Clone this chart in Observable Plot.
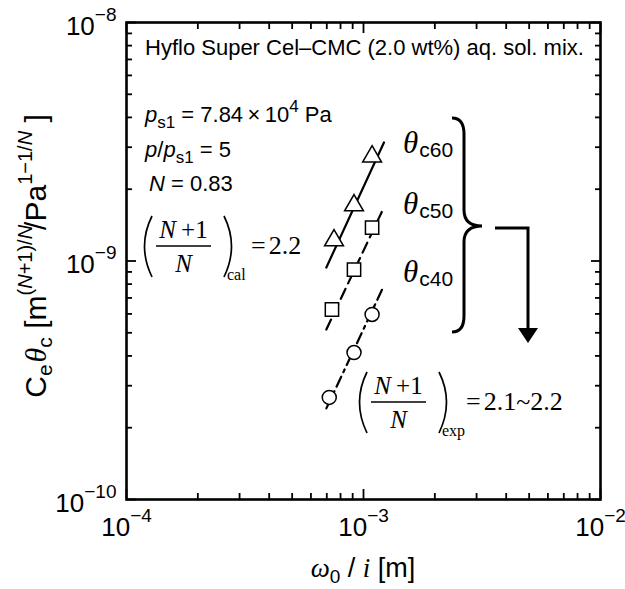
<!DOCTYPE html>
<html>
<head>
<meta charset="utf-8">
<script src="https://cdn.jsdelivr.net/npm/d3@7"></script>
<script src="https://cdn.jsdelivr.net/npm/@observablehq/plot@0.6"></script>
<style>
  body { margin: 0; background: #fff; }
  svg { display: block; }
</style>
</head>
<body>
<div id="chart"></div>
<script>
// ω0 / i [m] and Ce·θc values for the three consolidation levels
const omegaC60 = [7.51e-4, 9.12e-4, 1.087e-3];
const ceThetaC60 = [1.22e-9, 1.71e-9, 2.74e-9];
const omegaC50 = [7.36e-4, 9.12e-4, 1.087e-3];
const ceThetaC50 = [6.26e-10, 9.21e-10, 1.38e-9];
const omegaC40 = [7.17e-4, 9.12e-4, 1.087e-3];
const ceThetaC40 = [2.68e-10, 4.13e-10, 5.97e-10];

// fitted power-law lines (end points)
const fitOmega = [6.97e-4, 1.22e-3];
const fitC60 = [9.39e-10, 3.14e-9];
const fitC50 = [5.16e-10, 1.68e-9];
const fitC40 = [2.41e-10, 7.89e-10];

// axis ticks
const majorX = [1e-4, 1e-3, 1e-2];
const majorY = [1e-10, 1e-9, 1e-8];
const mantissas = [2, 3, 4, 5, 6, 7, 8, 9];
const minorX = [1e-4, 1e-3].flatMap(d => mantissas.map(m => m * d));
const minorY = [1e-10, 1e-9].flatMap(d => mantissas.map(m => m * d));

const pts = (xs, ys) => xs.map((x, i) => ({x, y: ys[i]}));

const SANS = "'Liberation Sans', Arial, Helvetica, sans-serif";
const SERIF = "'Liberation Serif', 'Times New Roman', Times, serif";

const tickOpts = {stroke: "black", strokeWidth: 1.8, text: null, label: null};
const pow10 = d => "10^" + Math.round(Math.log10(d));

const plot = Plot.plot({
  width: 625,
  height: 589,
  marginLeft: 126,
  marginRight: 25,
  marginTop: 22,
  marginBottom: 90,
  x: {type: "log", domain: [1e-4, 1e-2]},
  y: {type: "log", domain: [1e-10, 1e-8]},
  style: {fontFamily: SANS, background: "white", color: "black", overflow: "visible"},
  marks: [
    // inward ticks on all four sides
    Plot.axisX({...tickOpts, anchor: "bottom", ticks: majorX, tickSize: 10, dy: -10}),
    Plot.axisX({...tickOpts, anchor: "bottom", ticks: minorX, tickSize: 6, dy: -6}),
    Plot.axisX({...tickOpts, anchor: "top", ticks: majorX, tickSize: 10, dy: 10}),
    Plot.axisX({...tickOpts, anchor: "top", ticks: minorX, tickSize: 6, dy: 6}),
    Plot.axisY({...tickOpts, anchor: "left", ticks: majorY, tickSize: 10, dx: 10}),
    Plot.axisY({...tickOpts, anchor: "left", ticks: minorY, tickSize: 6, dx: 6}),
    Plot.axisY({...tickOpts, anchor: "right", ticks: majorY, tickSize: 10, dx: -10}),
    Plot.axisY({...tickOpts, anchor: "right", ticks: minorY, tickSize: 6, dx: -6}),
    // decade labels
    Plot.axisX({anchor: "bottom", ticks: majorX, tickSize: 0, tickPadding: 18, fontSize: 26, tickFormat: pow10, label: null}),
    Plot.axisY({anchor: "left", ticks: majorY, tickSize: 0, tickPadding: 10, fontSize: 26, tickFormat: pow10, label: null, dy: 4}),
    // fitted lines
    Plot.line(pts(fitOmega, fitC60), {x: "x", y: "y", stroke: "black", strokeWidth: 2.2}),
    Plot.line(pts(fitOmega, fitC50), {x: "x", y: "y", stroke: "black", strokeWidth: 2.2, strokeDasharray: "11,6"}),
    Plot.line(pts(fitOmega, fitC40), {x: "x", y: "y", stroke: "black", strokeWidth: 2.2, strokeDasharray: "11,5,3,5"}),
    // measured points
    Plot.dot(pts(omegaC60, ceThetaC60), {x: "x", y: "y", symbol: "triangle", r: 7, fill: "white", stroke: "black", strokeWidth: 1.5}),
    Plot.dot(pts(omegaC50, ceThetaC50), {x: "x", y: "y", symbol: "square", r: 7.5, fill: "white", stroke: "black", strokeWidth: 1.5}),
    Plot.dot(pts(omegaC40, ceThetaC40), {x: "x", y: "y", symbol: "circle", r: 7, fill: "white", stroke: "black", strokeWidth: 1.5}),
    Plot.frame({stroke: "black", strokeWidth: 2.6})
  ]
});

document.getElementById("chart").append(plot);

const svg = d3.select(plot);

// turn "10^-n" tick labels into a base with a raised exponent
svg.selectAll("text").each(function () {
  const s = this.textContent;
  if (!/^10\^/.test(s)) return;
  const [base, exp] = s.split("^");
  const t = d3.select(this);
  t.text(null);
  t.append("tspan").text(base);
  t.append("tspan").attr("dy", -14).attr("font-size", 19).text(String(exp).replace("-", "\u2212"));
});

// rich text helper: parts are [text, options]
function rich(parent, x, y, parts, attrs = {}) {
  const t = parent.append("text").attr("x", x).attr("y", y);
  for (const [k, v] of Object.entries(attrs)) t.attr(k, v);
  for (const [s, o = {}] of parts) {
    const sp = t.append("tspan").text(s);
    if (o.dy) sp.attr("dy", o.dy);
    if (o.dx) sp.attr("dx", o.dx);
    if (o.size) sp.attr("font-size", o.size);
    if (o.it) sp.attr("font-style", "italic");
    if (o.ff) sp.attr("font-family", o.ff);
  }
  return t;
}

const notes = svg.append("g")
  .attr("fill", "black")
  .attr("font-family", SANS)
  .attr("text-anchor", "start");

// sample description and test conditions
rich(notes, 145, 55, [["Hyflo Super Cel\u2013CMC (2.0 wt%) aq. sol. mix."]], {"font-size": 22});
rich(notes, 145, 122, [
  ["p", {it: true}], ["s1", {size: 17, dy: 6}], [" = 7.84\u2009\u00d7\u200910", {dy: -6}],
  ["4", {size: 17, dy: -10}], [" Pa", {dy: 10}]
], {"font-size": 22});
rich(notes, 145, 157, [
  ["p", {it: true}], ["/"], ["p", {it: true}], ["s1", {size: 17, dy: 6}], [" = 5", {dy: -6}]
], {"font-size": 22});
rich(notes, 149, 191, [["N", {it: true}], [" = 0.83"]], {"font-size": 22});

// (N+1)/N fraction in parentheses with a subscript and a right-hand side
function fraction(x0, y0, sub, rhs) {
  const g = notes.append("g").attr("font-family", SERIF);
  const paren = (x, dir) => g.append("path")
    .attr("d", `M${x},${y0 - 30} Q${x - dir * 15},${y0} ${x},${y0 + 31}`)
    .attr("fill", "none").attr("stroke", "black").attr("stroke-width", 1.7);
  paren(x0 + 9, 1);
  paren(x0 + 81, -1);
  g.append("line").attr("x1", x0 + 13).attr("x2", x0 + 68).attr("y1", y0).attr("y2", y0)
    .attr("stroke", "black").attr("stroke-width", 1.3);
  rich(g, x0 + 40.5, y0 - 8, [["N", {it: true}], ["\u2009+1"]], {"font-size": 25, "text-anchor": "middle"});
  rich(g, x0 + 40.5, y0 + 26, [["N", {it: true}]], {"font-size": 25, "text-anchor": "middle"});
  rich(g, x0 + 84, y0 + 34, [[sub]], {"font-size": 16});
  rich(g, x0 + 108, y0 + 8, [["="], [rhs, {dx: 3}]], {"font-size": 26});
}
fraction(143, 246, "cal", "2.2");
fraction(358, 402, "exp", "2.1~2.2");

// series labels
const theta = (y, sub) => rich(notes, 403, y, [
  ["\u03b8", {it: true, ff: SERIF}], [sub, {size: 21, dy: 4, dx: 1}]
], {"font-size": 31});
theta(153, "c60");
theta(214, "c50");
theta(282, "c40");

// brace grouping the three series and the arrow
notes.append("path")
  .attr("d", "M452,118 Q464,118 464,134 L464,210 Q464,226 482,226 Q464,226 464,242 L464,316 Q464,332 452,332")
  .attr("fill", "none").attr("stroke", "black").attr("stroke-width", 3);
notes.append("path")
  .attr("d", "M495,228 H528 V330")
  .attr("fill", "none").attr("stroke", "black").attr("stroke-width", 3);
notes.append("path").attr("d", "M518,328 L538,328 L528,343 Z").attr("fill", "black");

// axis titles
rich(notes, 363, 577, [
  ["\u03c9", {it: true, ff: SERIF}], ["0", {size: 19, dy: 6}], [" / ", {dy: -6}],
  ["i", {it: true, ff: SERIF}], [" [m]"]
], {"font-size": 27, "text-anchor": "middle"});

rich(notes, 0, 0, [
  ["C"], ["e", {size: 21, dy: 6}], ["\u03b8", {it: true, ff: SERIF, dy: -6, dx: 2}], ["c", {size: 21, dy: 6}],
  [" [m", {dy: -6}],
  ["(", {size: 20, dy: -14}], ["N", {size: 20, it: true}], ["+1)/", {size: 20}], ["N", {size: 20, it: true}],
  ["/", {dy: 14, dx: -5}], ["Pa"],
  ["1\u22121/", {size: 20, dy: -14}], ["N", {size: 20, it: true}],
  [" ]", {dy: 14}]
], {"font-size": 30, "text-anchor": "middle", transform: "translate(46,256) rotate(-90)"});
</script>
</body>
</html>
